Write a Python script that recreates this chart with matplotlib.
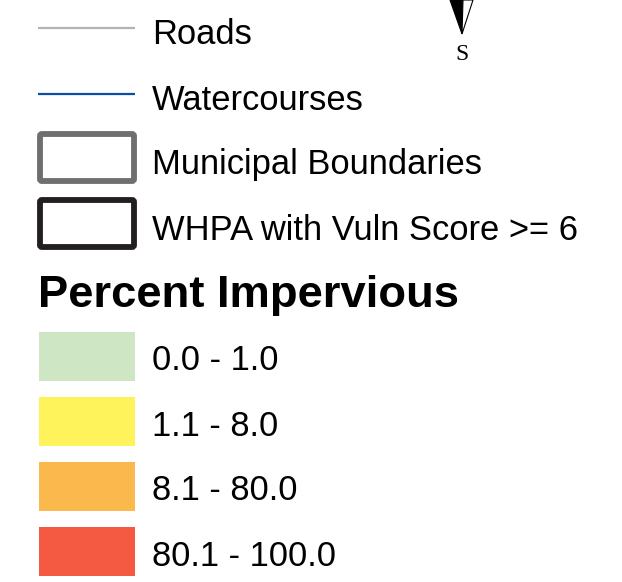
import matplotlib.pyplot as plt
from matplotlib.patches import Rectangle, FancyBboxPatch, Polygon

plt.rcParams['font.family'] = ['Liberation Sans', 'DejaVu Sans']

line_labels = ['Roads', 'Watercourses']
line_colors = ['#b3b3b3', '#0a4ea3']
box_labels = ['Municipal Boundaries', 'WHPA with Vuln Score >= 6']
box_colors = ['#6f6f6f', '#231f20']
title = 'Percent Impervious'
class_labels = ['0.0 - 1.0', '1.1 - 8.0', '8.1 - 80.0', '80.1 - 100.0']
class_colors = ['#cfe6c5', '#fff35c', '#fbb84c', '#f45a41']

fig = plt.figure(figsize=(6.22, 5.82), dpi=100)
ax = fig.add_axes([0, 0, 1, 1])
ax.set_xlim(0, 622)
ax.set_ylim(582, 0)
ax.axis('off')

fs = 24.85

# line symbols
for i, (lab, col) in enumerate(zip(line_labels, line_colors)):
    y = 28 + i * 66
    ax.plot([38, 135], [y, y], color=col, lw=1.6, solid_capstyle='butt')
    ax.text(152, y + 16, lab, fontsize=fs, va='baseline', ha='left')

# outlined boxes
for i, (lab, col) in enumerate(zip(box_labels, box_colors)):
    y = 134 + i * 66
    ax.add_patch(FancyBboxPatch((40, y), 94, 47, boxstyle='round,pad=0,rounding_size=2',
                                fc='white', ec=col, lw=4.2))
    ax.text(152, y + 40, lab, fontsize=fs, va='baseline', ha='left')

ax.text(38, 307, title, fontsize=32.7, fontweight='bold', va='baseline', ha='left')

for i, (lab, col) in enumerate(zip(class_labels, class_colors)):
    y = 332 + i * 65
    ax.add_patch(Rectangle((39, y), 96, 49, fc=col, ec='none'))
    ax.text(152, y + 38.5, lab, fontsize=fs, va='baseline', ha='left')

# north arrow fragment
ax.add_patch(Polygon([(450, 0), (463, 0), (462, 34)], closed=True, fc='black', ec='black', lw=0.8))
ax.add_patch(Polygon([(463, 0), (473, 0), (462, 34)], closed=True, fc='white', ec='black', lw=0.8))
ax.text(462, 60, 'S', fontsize=17, family=['Liberation Serif', 'DejaVu Serif'],
        ha='center', va='baseline')

fig.savefig('out.png', dpi=100)
